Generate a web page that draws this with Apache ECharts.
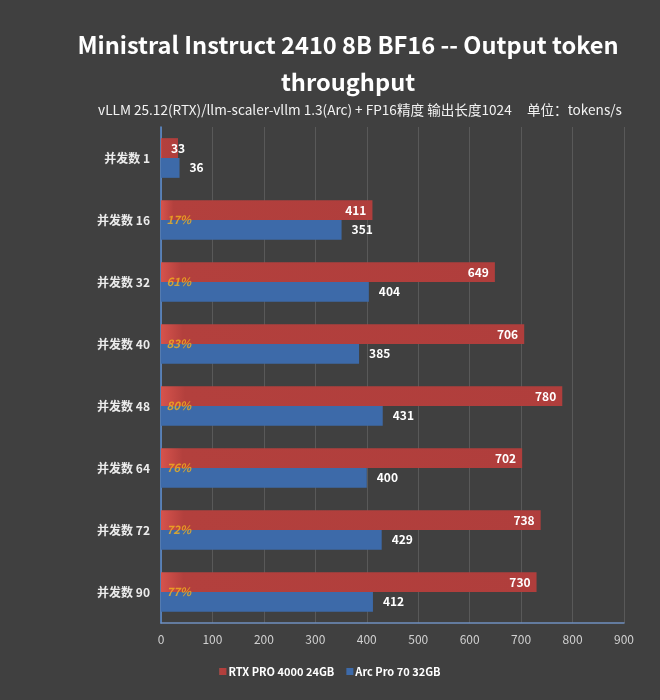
<!DOCTYPE html>
<html><head><meta charset="utf-8">
<script src="https://cdn.jsdelivr.net/npm/echarts@6/dist/echarts.min.js"></script>
<style>html,body{margin:0;padding:0;background:#404040;}#c{width:660px;height:700px;}</style>
</head><body><div id="c"></div>
<script>
const categories = ["并发数 1","并发数 16","并发数 32","并发数 40","并发数 48","并发数 64","并发数 72","并发数 90"];
const rtxValues = [33,411,649,706,780,702,738,730];
const arcValues = [36,351,404,385,431,400,429,412];
const pctLabels = [null,"17%","61%","83%","80%","76%","72%","77%"];
const seriesNames = ["RTX PRO 4000 24GB","Arc Pro 70 32GB"];
const xTicks = {min:0,max:900,interval:100};

const font = "'Noto Sans CJK SC','Noto Sans',sans-serif";
const chart = echarts.init(document.getElementById('c'));
chart.setOption({
  backgroundColor:'#404040',
  animation:false,
  textStyle:{fontFamily:font},
  title:[{
    text:'Ministral Instruct 2410 8B BF16 -- Output token\nthroughput',
    left:343, top:22, textAlign:'center',
    textStyle:{color:'#ffffff',fontSize:23.6,fontWeight:'bold',lineHeight:37,fontFamily:font}
  },{
    text:'vLLM 25.12(RTX)/llm-scaler-vllm 1.3(Arc) + FP16精度 输出长度1024     单位：tokens/s',
    left:355, top:98, textAlign:'center',
    textStyle:{color:'#f2f2f2',fontSize:13.6,fontWeight:'normal',fontFamily:font}
  }],
  legend:{
    bottom:18, left:'center', itemWidth:7, itemHeight:7, itemGap:12, icon:'rect',
    data:seriesNames,
    textStyle:{color:'#ffffff',fontSize:11,fontWeight:'bold',fontFamily:font,padding:[0,0,0,-3]}
  },
  grid:{left:161,right:36,top:127,bottom:77,containLabel:false},
  xAxis:{
    type:'value', min:xTicks.min, max:xTicks.max, interval:xTicks.interval,
    axisLine:{show:true,lineStyle:{color:'#6f8fbf',width:1.5}},
    axisTick:{show:false},
    axisLabel:{color:'#d0d0d0',fontSize:12,margin:10},
    splitLine:{show:true,lineStyle:{color:'#595959',width:1}}
  },
  yAxis:{
    type:'category', data:categories, inverse:true,
    axisLine:{show:true,lineStyle:{color:'#5b8fd6',width:1.5}},
    axisTick:{show:false},
    axisLabel:{color:'#ececec',fontSize:12,fontWeight:'bold',margin:11}
  },
  series:[{
    name:seriesNames[0], type:'bar', barGap:'0%', barCategoryGap:'36%',
    data:rtxValues.map((v,i)=>i===0?{value:v,label:{position:'insideLeft',distance:10}}:v),
    itemStyle:{color:new echarts.graphic.LinearGradient(0,0,1,0,[{offset:0,color:'#d6534c'},{offset:0.06,color:'#b3403d'},{offset:1,color:'#b03e3c'}])},
    label:{show:true,position:'insideRight',distance:6,color:'#ffffff',fontSize:12,fontWeight:'bold'}
  },{
    name:seriesNames[1], type:'bar', data:arcValues,
    itemStyle:{color:'#3d6aa9'},
    label:{show:true,position:'right',distance:10,color:'#ffffff',fontSize:12,fontWeight:'bold'}
  },{
    name:'pct', type:'scatter', symbolSize:1, itemStyle:{color:'rgba(0,0,0,0)'},
    data:pctLabels.map((p,i)=>p?{value:[0,i],label:{formatter:p}}:null).filter(d=>d),
    label:{show:true,position:'right',distance:5,color:'#f2b01e',fontSize:11.5,fontWeight:'bold',fontStyle:'italic'},
    silent:true, z:5
  }]
});
</script></body></html>
